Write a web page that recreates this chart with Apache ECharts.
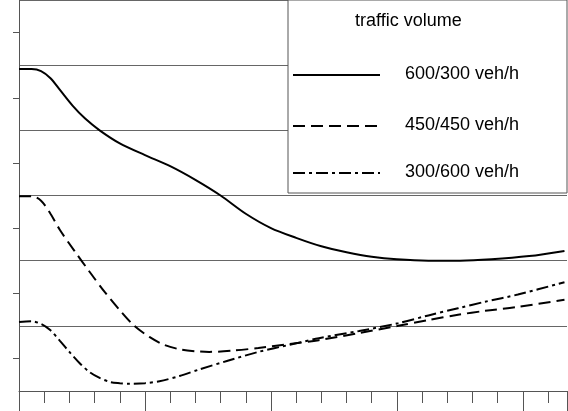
<!DOCTYPE html>
<html>
<head>
<meta charset="UTF-8">
<script src="https://cdn.jsdelivr.net/npm/echarts@6/dist/echarts.min.js"></script>
<style>body{margin:0;background:#fff}</style>
</head>
<body>
<div id="main" style="width:568px;height:411px"></div>
<script>
const names = ['600/300 veh/h', '450/450 veh/h', '300/600 veh/h'];
const s600 = [[0,4.94],[2,4.94],[3.5,4.91],[5,4.8],[6.5,4.62],[8.5,4.38],[10.5,4.18],[12.8,4.0],[16,3.8],[20,3.62],[24,3.45],[28,3.24],[32,3.0],[36,2.72],[40,2.5],[44,2.35],[48,2.22],[52,2.13],[56,2.06],[60,2.02],[65,2.0],[70,2.0],[75,2.02],[81,2.07],[86.6,2.15]];
const s450 = [[0,2.99],[2,2.99],[3.5,2.92],[5,2.72],[6.5,2.47],[8.8,2.15],[11.2,1.83],[13.6,1.52],[16,1.24],[18.3,1.0],[20.7,0.83],[23,0.71],[25.5,0.64],[28,0.61],[30.2,0.60],[34,0.62],[38,0.66],[43,0.72],[47.6,0.78],[54,0.89],[60.2,1.0],[65,1.09],[69.7,1.17],[74,1.23],[79.2,1.29],[86.6,1.40]];
const s300 = [[0,1.06],[2,1.07],[3.5,1.03],[4.9,0.94],[6.5,0.77],[8,0.6],[9.6,0.43],[11.2,0.29],[12.8,0.2],[14.4,0.14],[16,0.12],[17.5,0.11],[20,0.12],[22.3,0.15],[25.5,0.23],[28.6,0.33],[33,0.46],[38,0.60],[43,0.71],[47.6,0.81],[54,0.92],[60.2,1.04],[65,1.16],[69.7,1.27],[74,1.37],[79.2,1.48],[86.6,1.67]];

const chart = echarts.init(document.getElementById('main'));
const mk = (name, data, type) => ({name, type:'line', data, smooth:0.3, symbol:'none', z:3,
  lineStyle:{color:'#000', width:2, type}});
const txt = {fontFamily:'Liberation Sans', fontSize:18, fill:'#000'};
const legendRows = [[names[0], 75, 'solid'], [names[1], 126, [12,6]], [names[2], 173, [12,4,3,4]]];
chart.setOption({
  animation:false,
  grid:{left:19, right:1, top:0, bottom:20},
  xAxis:{type:'value', min:0, max:87, interval:20, axisLabel:{show:false},
    axisLine:{lineStyle:{color:'#555'}}, splitLine:{show:false},
    axisTick:{length:20, lineStyle:{color:'#555'}},
    minorTick:{show:true, splitNumber:5, length:12, lineStyle:{color:'#555'}}},
  yAxis:{type:'value', min:0, max:6, interval:1, axisLabel:{show:false},
    axisLine:{show:true, lineStyle:{color:'#555'}}, axisTick:{show:false},
    minorTick:{show:true, splitNumber:2, length:6, lineStyle:{color:'#555'}},
    splitLine:{lineStyle:{color:'#666', width:1}}},
  graphic:[
    {type:'rect', shape:{x:288, y:0, width:279, height:193}, z:5,
      style:{fill:'#fff', stroke:'#555', lineWidth:1}},
    {type:'text', x:355, y:12, z:6, style:Object.assign({text:'traffic volume'}, txt)}
  ].concat(legendRows.flatMap(([n, y, d]) => [
    {type:'line', z:6, shape:{x1:293, y1:y, x2:380, y2:y}, style:{stroke:'#000', lineWidth:2, lineDash:d === 'solid' ? null : d}},
    {type:'text', z:6, x:405, y:y - 10, style:Object.assign({text:n}, txt)}
  ])),
  series:[mk(names[0], s600, 'solid'), mk(names[1], s450, [12,6]), mk(names[2], s300, [12,4,3,4])]
});
</script>
</body>
</html>
